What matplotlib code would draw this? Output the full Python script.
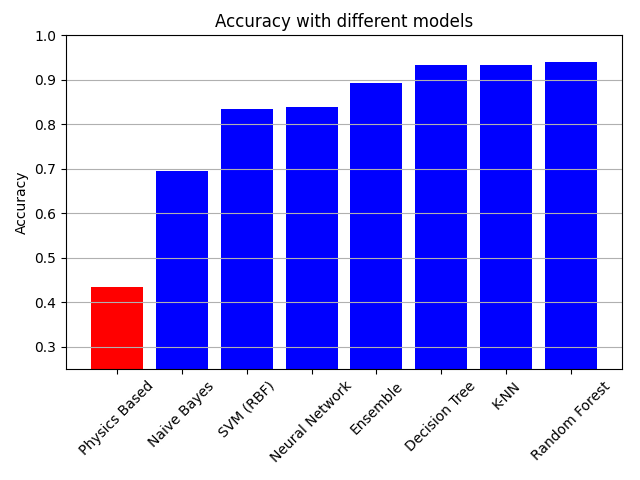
import matplotlib
matplotlib.use("Agg")
import matplotlib.pyplot as plt

models = ["Physics Based", "Naive Bayes", "SVM (RBF)", "Neural Network",
          "Ensemble", "Decision Tree", "K-NN", "Random Forest"]
accuracy = [0.434, 0.694, 0.834, 0.839, 0.892, 0.932, 0.932, 0.939]
colors = ["red"] + ["blue"] * 7

fig, ax = plt.subplots(figsize=(6.4, 4.8), dpi=100)
ax.bar(models, accuracy, color=colors)
ax.set_ylim(0.25, 1.0)
ax.set_ylabel("Accuracy")
ax.set_title("Accuracy with different models")
ax.grid(axis="y")
plt.xticks(rotation=45)
plt.subplots_adjust(left=0.103, right=0.972, top=0.927, bottom=0.231)
plt.savefig("out.png")
